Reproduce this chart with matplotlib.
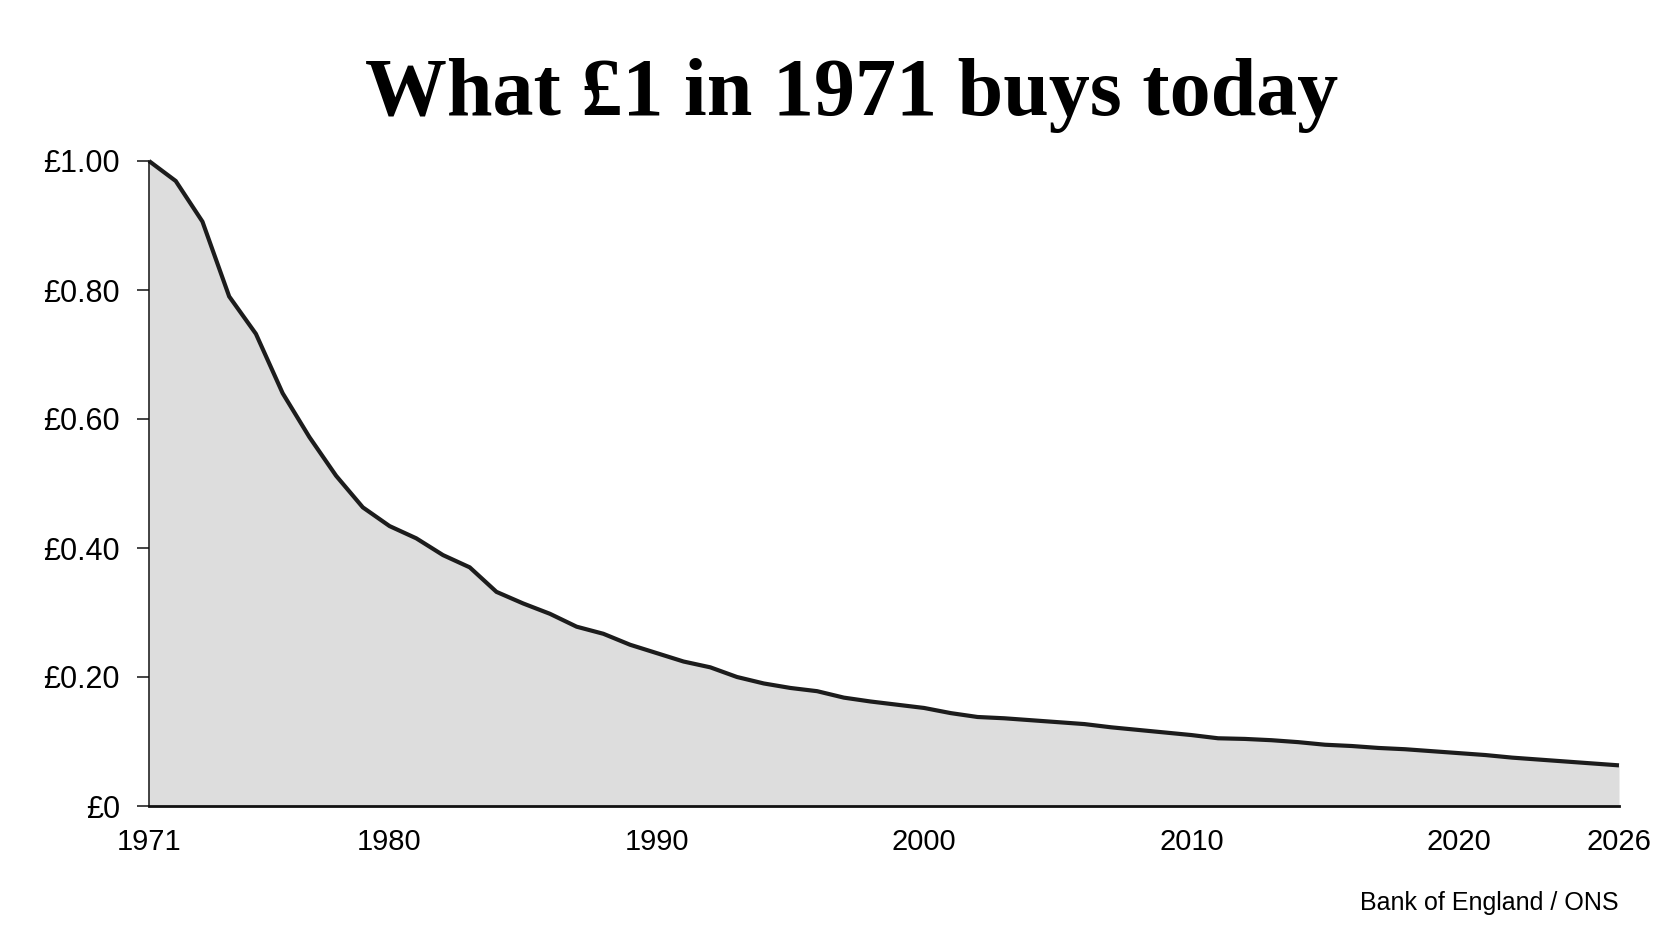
import matplotlib
matplotlib.use("Agg")
import matplotlib.pyplot as plt

# values (value of £1 from 1971, by year)
years = list(range(1971, 2027))
values = [
    1.000, 0.969, 0.906, 0.790, 0.732, 0.640, 0.572, 0.512, 0.463, 0.434,
    0.415, 0.389, 0.370, 0.332, 0.314, 0.298, 0.278, 0.267, 0.250, 0.237,
    0.224, 0.215, 0.200, 0.190, 0.183, 0.178, 0.168, 0.162, 0.157, 0.152,
    0.144, 0.138, 0.136, 0.133, 0.130, 0.127, 0.122, 0.118, 0.114, 0.110,
    0.105, 0.104, 0.102, 0.099, 0.095, 0.093, 0.090, 0.088, 0.085, 0.082,
    0.079, 0.075, 0.072, 0.069, 0.066, 0.063,
]

y_ticks = [0, 0.2, 0.4, 0.6, 0.8, 1.0]
y_tick_labels = ["£0", "£0.20", "£0.40", "£0.60", "£0.80", "£1.00"]
x_ticks = [1971, 1980, 1990, 2000, 2010, 2020, 2026]
x_tick_labels = ["1971", "1980", "1990", "2000", "2010", "2020", "2026"]

title = "What £1 in 1971 buys today"
source = "Bank of England / ONS"

label_font = ["Liberation Sans Narrow", "Liberation Sans", "DejaVu Sans"]

fig = plt.figure(figsize=(16.72, 9.41), dpi=100)
ax = fig.add_axes([149 / 1672, 1 - 806 / 941, 1470 / 1672, 645 / 941])

# area + outline
ax.fill_between(years, values, 0, color="#dddddd", linewidth=0)
ax.plot(years, values, color="#1c1c1c", linewidth=3.0, clip_on=False,
        solid_joinstyle="miter", solid_capstyle="butt")

ax.set_xlim(years[0], years[-1])
ax.set_ylim(0, 1.0)

# axes styling
for side in ["top", "right"]:
    ax.spines[side].set_visible(False)
ax.spines["left"].set_linewidth(1.1)
ax.spines["bottom"].set_linewidth(2.0)
ax.spines["left"].set_color("#111111")
ax.spines["bottom"].set_color("#111111")

ax.set_yticks(y_ticks)
ax.set_yticklabels(y_tick_labels, family=label_font, fontsize=22)
ax.set_xticks(x_ticks)
ax.set_xticklabels(x_tick_labels, family=label_font, fontsize=21)
ax.tick_params(axis="y", length=8.3, width=1.1, pad=12.5, color="#111111")
ax.tick_params(axis="x", length=0, pad=16)

fig.text(852 / 1672, 1 - 115 / 941, title, ha="center", va="baseline",
         family=["Liberation Serif", "DejaVu Serif"], fontweight="bold",
         fontsize=59)
fig.text(1619 / 1672, 1 - 903 / 941, source, ha="right", va="center",
         family=label_font, fontsize=18)

fig.savefig("out.png", dpi=100, facecolor="white")
plt.close(fig)
